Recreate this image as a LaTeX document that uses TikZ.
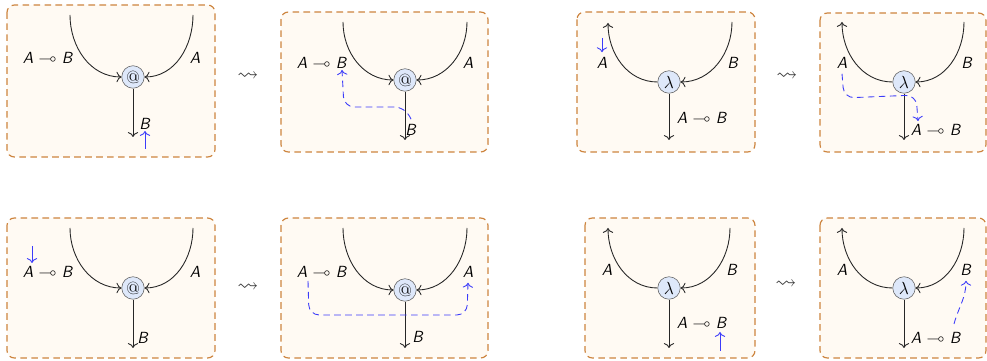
\documentclass[tikz,border=0pt]{standalone}
\usepackage{amsmath, amssymb}
\usepackage{xcolor}
\usetikzlibrary{arrows.meta}
\definecolor{frameline}{RGB}{205,132,62}
\definecolor{framefill}{RGB}{255,250,243}
\definecolor{hubfill}{RGB}{222,232,250}
\definecolor{movecol}{RGB}{60,60,250}
\newcommand{\ty}[1]{\textsf{\itshape #1}}
\newcommand{\lolli}{\ty{A} $\multimap$ \ty{B}}

\begin{document}
\begin{tikzpicture}[x=0.024cm, y=-0.024cm, every node/.style={font=\fontsize{11}{13}\selectfont},
  frame/.style={draw=frameline, fill=framefill, line width=0.8pt, dash pattern=on 4.5pt off 3pt, rounded corners=5pt},
  hub/.style={circle, draw=black!60, fill=hubfill, minimum size=0.54cm, inner sep=0pt},
  wire/.style={-{To[scale=1.15]}, black!85, semithick},
  move/.style={-{To[scale=1.15]}, movecol, semithick},
  trace/.style={-{To[scale=1.15]}, movecol, semithick, dash pattern=on 4.5pt off 3pt, rounded corners=7pt},
  squig/.style={font=\Large, black!80}]

  \useasboundingbox (0,0) rectangle (987,361);

  % ========== Top row, left pair: application ==========
  \draw[frame] (7,5) rectangle (215,157);
  \node[hub] (app1) at (133,77) {\large @};
  \coordinate (l1) at (70,15);
  \coordinate (r1) at (193,15);
  \coordinate (o1) at (133,137);
  \draw[wire] (l1) to[out=-90, in=180] (app1);
  \draw[wire] (r1) to[out=-90, in=0] (app1);
  \draw[wire] (app1) -- (o1);
  \node (f1) at (48,58) {\lolli};
  \node (a1) at (195,58) {\ty{A}};
  \node (b1) at (145,124) {\ty{B}};
  % token moving up
  \coordinate (m1) at (145,149);
  \coordinate (e1) at (145,131);
  \draw[move] (m1) -- (e1);

  \node[squig] (sq1) at (248,77) {$\leadsto$};

  \draw[frame] (281,12) rectangle (488,152);
  \node[hub] (app2) at (405,80) {\large @};
  \coordinate (l2) at (343,22);
  \coordinate (r2) at (467,22);
  \coordinate (o2) at (405,140);
  \draw[wire] (l2) to[out=-90, in=180] (app2);
  \draw[wire] (r2) to[out=-90, in=0] (app2);
  \draw[wire] (app2) -- (o2);
  \node (f2) at (322,63) {\lolli};
  \node (a2) at (468,63) {\ty{A}};
  \node (b2) at (411,130) {\ty{B}};
  % token path
  \coordinate (t2) at (342,70);
  \draw[trace] (b2.north) -- (405,107) -- (344,107) -- (t2);

  % ========== Top row, right pair: abstraction ==========
  \draw[frame] (577,12) rectangle (755,152);
  \node[hub] (lam3) at (669,82) {\large$\lambda$};
  \coordinate (l3) at (608,23);
  \coordinate (r3) at (732,22);
  \coordinate (o3) at (669,140);
  \draw[wire] (lam3) to[out=180, in=-90] (l3);
  \draw[wire] (r3) to[out=-90, in=0] (lam3);
  \draw[wire] (lam3) -- (o3);
  \node (a3) at (602,63) {\ty{A}};
  \node (b3) at (733,63) {\ty{B}};
  \node (f3) at (702,118) {\lolli};
  % token moving down
  \coordinate (m3) at (602,38);
  \draw[move] (m3) -- (a3.north);

  \node[squig] (sq2) at (787,77) {$\leadsto$};

  \draw[frame] (820,13) rectangle (986,152);
  \node[hub] (lam4) at (904,82) {\large$\lambda$};
  \coordinate (l4) at (842,22);
  \coordinate (r4) at (964,22);
  \coordinate (o4) at (904,140);
  \draw[wire] (lam4) to[out=180, in=-90] (l4);
  \draw[wire] (r4) to[out=-90, in=0] (lam4);
  \draw[wire] (lam4) -- (o4);
  \node (a4) at (842,63) {\ty{A}};
  \node (b4) at (967,63) {\ty{B}};
  \node (f4) at (936,130) {\lolli};
  % token path
  \coordinate (t4) at (918,121);
  \draw[trace] (a4.south) -- (844,98) -- (916,95) -- (t4);

  % ========== Bottom row, left pair: application ==========
  \draw[frame] (7,218) rectangle (215,358);
  \node[hub] (app5) at (133,288) {\large @};
  \coordinate (l5) at (70,228);
  \coordinate (r5) at (193,228);
  \coordinate (o5) at (133,348);
  \draw[wire] (l5) to[out=-90, in=180] (app5);
  \draw[wire] (r5) to[out=-90, in=0] (app5);
  \draw[wire] (app5) -- (o5);
  \node (f5) at (48,272) {\lolli};
  \node (a5) at (195,272) {\ty{A}};
  \node (b5) at (143,338) {\ty{B}};
  % token moving down
  \coordinate (m5) at (32,246);
  \coordinate (e5) at (32,263);
  \draw[move] (m5) -- (e5);

  \node[squig] (sq3) at (248,288) {$\leadsto$};

  \draw[frame] (281,218) rectangle (488,358);
  \node[hub] (app6) at (405,290) {\large @};
  \coordinate (l6) at (343,228);
  \coordinate (r6) at (467,228);
  \coordinate (o6) at (405,348);
  \draw[wire] (l6) to[out=-90, in=180] (app6);
  \draw[wire] (r6) to[out=-90, in=0] (app6);
  \draw[wire] (app6) -- (o6);
  \node (f6) at (322,272) {\lolli};
  \node (a6) at (468,272) {\ty{A}};
  \node (b6) at (418,337) {\ty{B}};
  % token path
  \coordinate (s6) at (308,281);
  \draw[trace] (s6) -- (309,315) -- (467,315) -- (a6.south);

  % ========== Bottom row, right pair: abstraction ==========
  \draw[frame] (585,218) rectangle (755,358);
  \node[hub] (lam7) at (669,288) {\large$\lambda$};
  \coordinate (l7) at (608,228);
  \coordinate (r7) at (730,228);
  \coordinate (o7) at (669,348);
  \draw[wire] (lam7) to[out=180, in=-90] (l7);
  \draw[wire] (r7) to[out=-90, in=0] (lam7);
  \draw[wire] (lam7) -- (o7);
  \node (a7) at (607,270) {\ty{A}};
  \node (b7) at (732,270) {\ty{B}};
  \node (f7) at (702,323) {\lolli};
  % token moving up
  \coordinate (m7) at (720,351);
  \coordinate (e7) at (720,332);
  \draw[move] (m7) -- (e7);

  \node[squig] (sq4) at (786,285) {$\leadsto$};

  \draw[frame] (820,218) rectangle (986,358);
  \node[hub] (lam8) at (904,288) {\large$\lambda$};
  \coordinate (l8) at (842,228);
  \coordinate (r8) at (964,228);
  \coordinate (o8) at (904,348);
  \draw[wire] (lam8) to[out=180, in=-90] (l8);
  \draw[wire] (r8) to[out=-90, in=0] (lam8);
  \draw[wire] (lam8) -- (o8);
  \node (a8) at (842,270) {\ty{A}};
  \node (b8) at (966,270) {\ty{B}};
  \node (f8) at (936,338) {\lolli};
  % token path
  \coordinate (s8) at (954,324);
  \draw[trace] (s8) to[out=75, in=-90] (b8.south);

\end{tikzpicture}
\end{document}
